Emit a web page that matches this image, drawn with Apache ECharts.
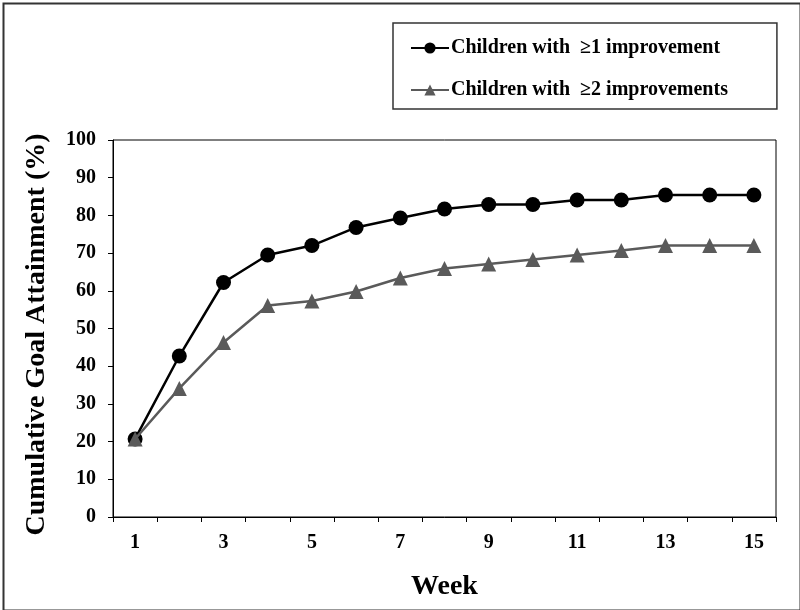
<!DOCTYPE html>
<html>
<head>
<meta charset="utf-8">
<script src="https://cdn.jsdelivr.net/npm/echarts@6/dist/echarts.min.js"></script>
<style>
  html, body { margin: 0; padding: 0; background: #fff; }
  #main { width: 800px; height: 610px; }
</style>
</head>
<body>
<div id="main"></div>
<script>
var weeks = ['1','2','3','4','5','6','7','8','9','10','11','12','13','14','15'];
var seriesNames = ['Children with  \u22651 improvement', 'Children with  \u22652 improvements'];
var atLeastOne = [20.7, 42.7, 62.2, 69.5, 72.0, 76.8, 79.3, 81.7, 82.9, 82.9, 84.1, 84.1, 85.4, 85.4, 85.4];
var atLeastTwo = [20.7, 34.1, 46.3, 56.1, 57.3, 59.8, 63.4, 65.9, 67.1, 68.3, 69.5, 70.7, 72.0, 72.0, 72.0];
var yTicks = { min: 0, max: 100, interval: 10 };
var xTitle = 'Week';
var yTitle = 'Cumulative Goal Attainment (%)';

var FONT = '"Liberation Serif", "Times New Roman", serif';
var chart = echarts.init(document.getElementById('main'), null, { renderer: 'canvas' });
chart.setOption({
  animation: false,
  backgroundColor: '#fff',
  graphic: [{
    type: 'rect', left: 1, top: 1, z: -1,
    shape: { x: 0, y: 0, width: 797, height: 607 },
    style: { fill: 'none', stroke: '#333', lineWidth: 2 }
  }],
  grid: {
    left: 113, right: 24, top: 140, bottom: 93,
    show: true, borderColor: '#000', borderWidth: 1, backgroundColor: 'transparent'
  },
  legend: {
    orient: 'vertical',
    left: 393, top: 23,
    padding: [15, 49, 9, 17],
    itemGap: 22,
    itemWidth: 38, itemHeight: 14,
    borderColor: '#333', borderWidth: 1.5,
    textStyle: { fontFamily: FONT, fontWeight: 'bold', fontSize: 20, color: '#000', padding: [0, 0, 0, -3] },
    data: seriesNames
  },
  xAxis: {
    type: 'category',
    data: weeks,
    boundaryGap: true,
    name: xTitle,
    nameLocation: 'middle',
    nameGap: 56,
    nameTextStyle: { fontFamily: FONT, fontWeight: 'bold', fontSize: 28, color: '#000' },
    axisLine: { lineStyle: { color: '#000', width: 1 } },
    axisTick: { show: true, interval: 0, length: 5, lineStyle: { color: '#000' } },
    axisLabel: { interval: 1, margin: 16, fontFamily: FONT, fontWeight: 'bold', fontSize: 20, color: '#000' },
    splitLine: { show: false }
  },
  yAxis: {
    type: 'value',
    min: yTicks.min, max: yTicks.max, interval: yTicks.interval,
    name: yTitle,
    nameLocation: 'middle',
    nameGap: 62,
    nameTextStyle: { fontFamily: FONT, fontWeight: 'bold', fontSize: 28, color: '#000', padding: [0, 12, 0, 0] },
    axisLine: { show: true, lineStyle: { color: '#000', width: 1 } },
    axisTick: { show: true, length: 5, lineStyle: { color: '#000' } },
    axisLabel: { margin: 17, fontFamily: FONT, fontWeight: 'bold', fontSize: 20, color: '#000' },
    splitLine: { show: false }
  },
  series: [
    {
      name: seriesNames[0], type: 'line', data: atLeastOne,
      symbol: 'circle', symbolSize: 15,
      lineStyle: { color: '#000', width: 2.5 },
      itemStyle: { color: '#000' },
      z: 3
    },
    {
      name: seriesNames[1], type: 'line', data: atLeastTwo,
      symbol: 'triangle', symbolSize: 15,
      lineStyle: { color: '#5a5a5a', width: 2.5 },
      itemStyle: { color: '#5a5a5a' },
      z: 4
    }
  ]
});
</script>
</body>
</html>
